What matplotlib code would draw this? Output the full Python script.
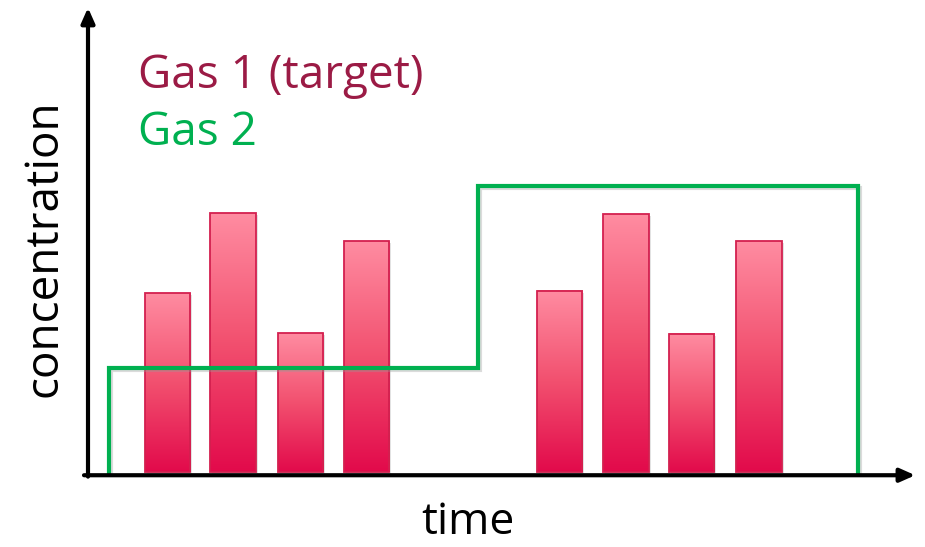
import matplotlib.pyplot as plt
import numpy as np
from matplotlib.colors import LinearSegmentedColormap
from matplotlib.patches import Rectangle
import matplotlib.patheffects as pe

# Gas 1 pulses (time centre, concentration)
pulse_times = [1.19, 2.18, 3.19, 4.19, 7.09, 8.09, 9.08, 10.09]
pulse_conc = [3.87, 5.6, 3.0, 5.0, 3.92, 5.58, 2.99, 5.0]
pulse_width = 0.68

# Gas 2 background level (step profile)
gas2_time = [0.32, 0.32, 5.86, 5.86, 11.58, 11.58]
gas2_conc = [0.0, 2.25, 2.25, 6.19, 6.19, 0.0]

red_text = '#9B1B45'
green = '#00B050'

plt.rcParams['font.family'] = ['Open Sans', 'DejaVu Sans']

fig = plt.figure(figsize=(9.25, 5.47), dpi=100)
ax = fig.add_axes([0, 0, 1, 1])
ax.set_xlim(-88 / 66.5, (925 - 88) / 66.5)
ax.set_ylim(-(547 - 472) / 46.2, 472 / 46.2)
ax.axis('off')

shadow = [pe.SimpleLineShadow(offset=(1.5, -1.5), shadow_color='0.6', alpha=0.35), pe.Normal()]

cmap = LinearSegmentedColormap.from_list('pulse', ['#E20A4B', '#F2506F', '#FF8CA1'])
grad = np.linspace(0, 1, 256).reshape(-1, 1)
for t, c in zip(pulse_times, pulse_conc):
    x0, x1 = t - pulse_width / 2, t + pulse_width / 2
    # soft drop shadow behind the bar
    ax.add_patch(Rectangle((x0 + 0.03, -0.04), pulse_width, c, facecolor='0.55',
                           alpha=0.25, edgecolor='none', zorder=1))
    ax.imshow(grad, cmap=cmap, origin='lower', aspect='auto',
              extent=(x0, x1, 0, c), zorder=2)
    ax.add_patch(Rectangle((x0, 0), pulse_width, c, facecolor='none',
                           edgecolor='#D3204F', linewidth=1.3, zorder=3))

ax.plot(gas2_time, gas2_conc, color=green, linewidth=3, zorder=4,
        solid_joinstyle='miter', path_effects=shadow)

# axes with arrow heads
arrow = dict(arrowstyle='-|>,head_length=0.9,head_width=0.4', color='black',
             linewidth=3, shrinkA=0, shrinkB=0)
ax.annotate('', xy=(12.44, -0.07), xytext=(-0.06, -0.07), arrowprops=arrow, zorder=5)
ax.annotate('', xy=(0.0, 10.05), xytext=(0.0, -0.1), arrowprops=arrow, zorder=5)

fig.text(138 / 925, 1 - 88 / 547, 'Gas 1 (target)', color=red_text, fontsize=33,
         ha='left', va='baseline')
fig.text(138 / 925, 1 - 145 / 547, 'Gas 2', color=green, fontsize=33,
         ha='left', va='baseline')
fig.text(468 / 925, 2 / 547, 'time', color='black', fontsize=32,
         ha='center', va='bottom')
fig.text(68 / 925, 1 - 248 / 547, 'concentration', color='black', fontsize=33,
         rotation=90, ha='right', va='center')

fig.savefig('out.png', dpi=100)
